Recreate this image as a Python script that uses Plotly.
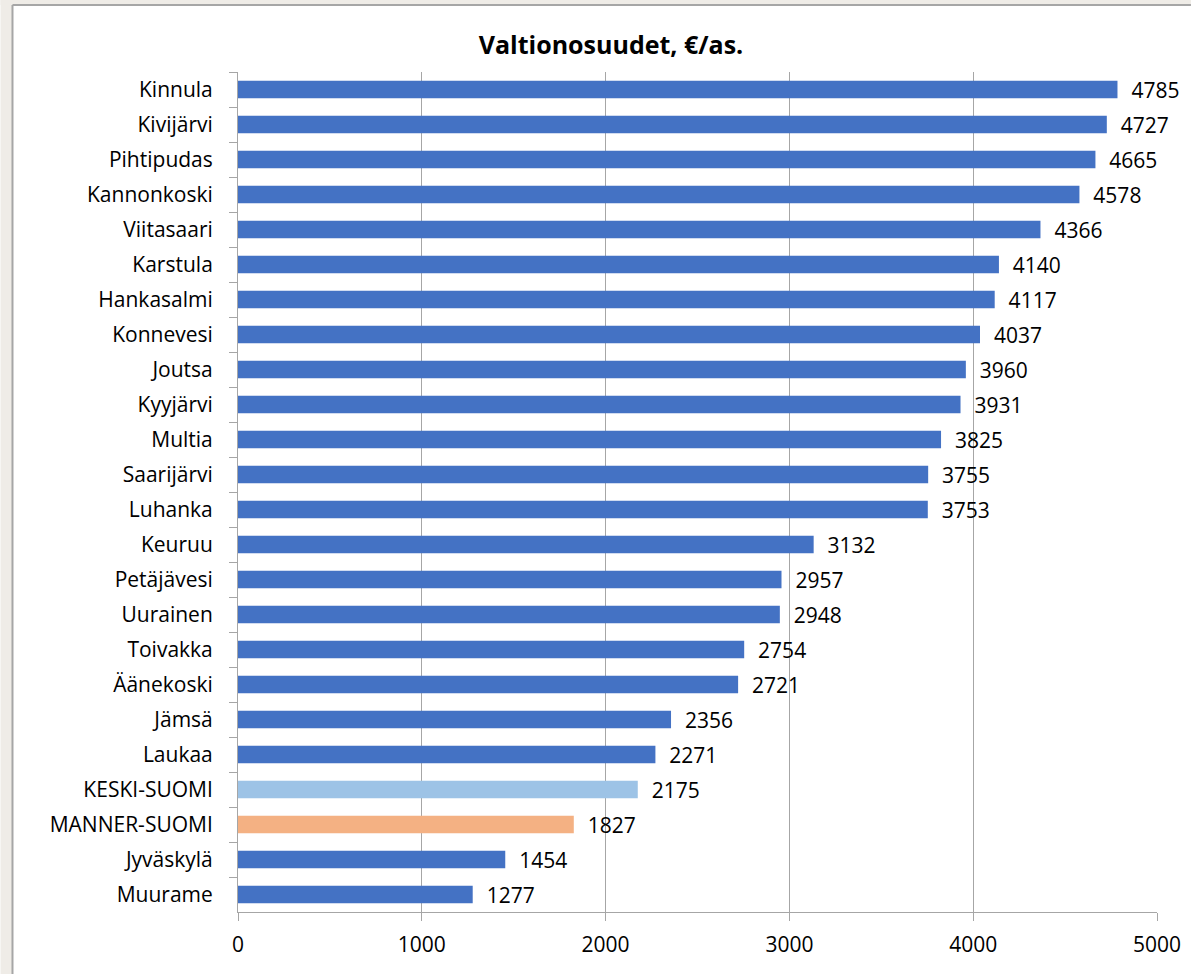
import plotly.graph_objects as go

categories = ["Kinnula", "Kivijärvi", "Pihtipudas", "Kannonkoski", "Viitasaari", "Karstula",
              "Hankasalmi", "Konnevesi", "Joutsa", "Kyyjärvi", "Multia", "Saarijärvi",
              "Luhanka", "Keuruu", "Petäjävesi", "Uurainen", "Toivakka", "Äänekoski",
              "Jämsä", "Laukaa", "KESKI-SUOMI", "MANNER-SUOMI", "Jyväskylä", "Muurame"]
values = [4785, 4727, 4665, 4578, 4366, 4140, 4117, 4037, 3960, 3931, 3825, 3755,
          3753, 3132, 2957, 2948, 2754, 2721, 2356, 2271, 2175, 1827, 1454, 1277]
tick_values = [0, 1000, 2000, 3000, 4000, 5000]

BLUE = "#4472C4"
colors = []
for c in categories:
    if c == "KESKI-SUOMI":
        colors.append("#9DC3E6")
    elif c == "MANNER-SUOMI":
        colors.append("#F4B183")
    else:
        colors.append(BLUE)

FONT = "Open Sans, Noto Sans, sans-serif"
FS = 21

W, H = 1193, 974
L, R, T, B = 238, 34, 72, 62
pw = W - L - R
ph = H - T - B

fig = go.Figure(go.Bar(
    y=categories, x=values, orientation="h",
    marker=dict(color=colors, line=dict(width=0)),
    text=values, texttemplate="  %{x}", textposition="outside",
    constraintext="none",
    textfont=dict(family=FONT, size=FS, color="black"),
    cliponaxis=False,
))

fig.update_layout(
    width=W, height=H,
    margin=dict(l=L, r=R, t=T, b=B),
    paper_bgcolor="white", plot_bgcolor="white",
    bargap=0.5, showlegend=False,
    font=dict(family=FONT, size=FS, color="black"),
    title=dict(text="<b>Valtionosuudet, €/as.</b>", x=611 / W, xanchor="center",
               y=1 - 45 / H, yanchor="middle", font=dict(family=FONT, size=25, color="black")),
    xaxis=dict(range=[0, 5000], tickvals=tick_values, showgrid=True, gridcolor="#A6A6A6",
               gridwidth=1, zeroline=False, showline=True, linecolor="#A6A6A6", linewidth=1,
               ticks="outside", ticklen=8, tickcolor="#A6A6A6", ticklabelstandoff=6,
               tickfont=dict(family=FONT, size=FS, color="black")),
    yaxis=dict(categoryorder="array", categoryarray=categories, autorange="reversed",
               showline=True, linecolor="#A6A6A6", linewidth=1, ticks="outside",
               tickson="boundaries", ticklen=8, tickcolor="#A6A6A6", showgrid=False,
               ticklabelstandoff=20,
               tickfont=dict(family=FONT, size=FS, color="black")),
)

# Beige outer frame (left and top strips) with grey border line
fx = lambda px: (px - L) / pw
fy = lambda py: 1 - (py - T) / ph
fig.add_shape(type="rect", xref="paper", yref="paper", x0=fx(0), x1=fx(12), y0=fy(H), y1=fy(0),
              fillcolor="#EFECE7", line=dict(width=0), layer="below")
fig.add_shape(type="rect", xref="paper", yref="paper", x0=fx(0), x1=fx(W), y0=fy(5), y1=fy(0),
              fillcolor="#EFECE7", line=dict(width=0), layer="below")
fig.add_shape(type="line", xref="paper", yref="paper", x0=fx(12), x1=fx(12), y0=fy(H), y1=fy(5),
              line=dict(color="#A6A6A6", width=2))
fig.add_shape(type="line", xref="paper", yref="paper", x0=fx(12), x1=fx(W), y0=fy(5), y1=fy(5),
              line=dict(color="#A6A6A6", width=2))

fig.write_html("out.html", config={"displayModeBar": False},
               post_script="document.body.style.margin='0';document.body.style.overflow='hidden';")
